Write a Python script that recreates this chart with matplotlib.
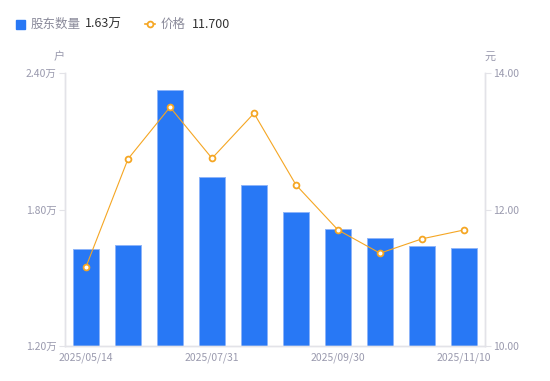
import matplotlib.pyplot as plt
from matplotlib.lines import Line2D

plt.rcParams["font.family"] = ["Noto Sans CJK SC", "DejaVu Sans"]

# data
dates = ["2025/05/14", "2025/06/10", "2025/06/30", "2025/07/31", "2025/08/20",
         "2025/08/31", "2025/09/30", "2025/10/20", "2025/10/31", "2025/11/10"]
holders = [1.626, 1.644, 2.325, 1.943, 1.908, 1.789, 1.714, 1.675, 1.640, 1.631]  # 万户
price = [11.16, 12.74, 13.50, 12.75, 13.41, 12.36, 11.70, 11.36, 11.57, 11.70]     # 元
shown_ticks = [0, 3, 6, 9]

BLUE = "#2878F5"
ORANGE = "#F5A623"
GRID = "#E3E3E8"
LABEL = "#9A9AAE"

fig = plt.figure(figsize=(5.5, 3.81), dpi=100)
ax = fig.add_axes([65 / 550, 35 / 381, 420 / 550, 273 / 381])
ax2 = ax.twinx()

x = list(range(len(dates)))
ax.bar(x, holders, width=0.62, color=BLUE, edgecolor="#8DB4FA", linewidth=0.7, zorder=2)
ax.set_xlim(-0.5, len(dates) - 0.5)
ax.set_ylim(1.2, 2.4)
ax.set_yticks([1.2, 1.8, 2.4])
ax.set_yticklabels([f"{v:.2f}万" for v in [1.2, 1.8, 2.4]])
ax.set_xticks(shown_ticks)
ax.set_xticklabels([dates[i] for i in shown_ticks])

ax2.plot(x, price, color=ORANGE, linewidth=0.8, marker="o", markersize=4.2,
         markerfacecolor="white", markeredgecolor=ORANGE, markeredgewidth=1.3, zorder=3)
ax2.set_ylim(10, 14)
ax2.set_yticks([10, 12, 14])
ax2.set_yticklabels([f"{v:.2f}" for v in [10, 12, 14]])

for a in (ax, ax2):
    a.spines["top"].set_visible(False)
    for s in ["left", "right", "bottom"]:
        a.spines[s].set_color(GRID)
        a.spines[s].set_linewidth(1)
    a.tick_params(colors=GRID, labelcolor=LABEL, labelsize=7.5, length=4, width=0.8)
ax.tick_params(axis="x", length=0, pad=5)
ax.tick_params(axis="y", pad=2)
ax2.tick_params(axis="y", pad=2)
ax.set_zorder(ax2.get_zorder() - 1)
ax.patch.set_visible(True)
ax2.patch.set_visible(False)

# unit labels
fig.text(59 / 550, 1 - 57 / 381, "户", color=LABEL, fontsize=8, ha="center", va="center")
fig.text(490 / 550, 1 - 57 / 381, "元", color=LABEL, fontsize=8, ha="center", va="center")

# legend header
fig.patches.append(plt.Rectangle((16 / 550, 1 - 29 / 381), 9 / 550, 9 / 381,
                                 transform=fig.transFigure, color=BLUE))
fig.text(31 / 550, 1 - 24 / 381, "股东数量", color="#8A8A9A", fontsize=9, va="center")
fig.text(85 / 550, 1 - 24 / 381, f"{holders[-1]:.2f}万", color="#333333", fontsize=9, va="center")
fig.lines.append(Line2D([145 / 550, 155 / 550], [1 - 24 / 381, 1 - 24 / 381],
                        transform=fig.transFigure, color=ORANGE, linewidth=1.2))
fig.lines.append(Line2D([150 / 550], [1 - 24 / 381], transform=fig.transFigure,
                        marker="o", markersize=4.2, markerfacecolor="white",
                        markeredgecolor=ORANGE, markeredgewidth=1.3, linestyle="none"))
fig.text(161 / 550, 1 - 24 / 381, "价格", color="#8A8A9A", fontsize=9, va="center")
fig.text(192 / 550, 1 - 24 / 381, f"{price[-1]:.3f}", color="#333333", fontsize=9, va="center")

fig.savefig("out.png", dpi=100, facecolor="white")
